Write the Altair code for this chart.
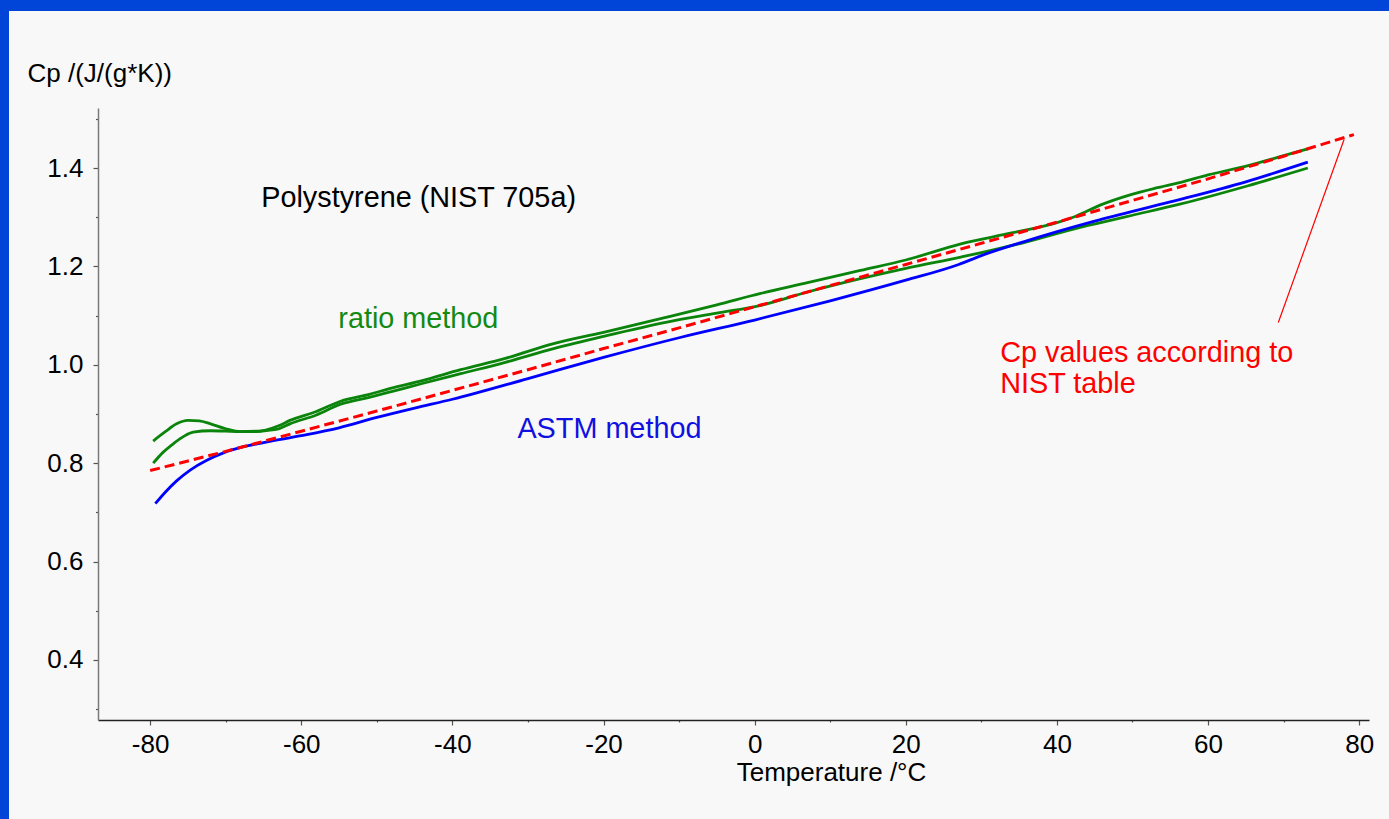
import altair as alt
import pandas as pd

# ---------------- data ----------------
nist_t = [-80.0, -70.0, -60.0, -50.0, -40.0, -30.0, -20.0, -10.0, 0.0, 10.0, 20.0, 30.0, 40.0, 50.0, 60.0, 70.0, 79.3]
nist_cp = [0.785, 0.824, 0.865, 0.906, 0.948, 0.990, 1.033, 1.075, 1.118, 1.161, 1.204, 1.247, 1.290, 1.334, 1.378, 1.424, 1.468]

astm_t = [-79.3, -78.0, -76.5, -74.7, -72.5, -70.3, -68.0, -65.0, -60.0, -55.0, -50.0, -45.0, -40.0, -30.0, -20.0, -10.0, 0.0, 10.0, 20.0, 27.0, 30.0, 36.0, 45.0, 55.0, 65.0, 73.2]
astm_cp = [0.718, 0.741, 0.764, 0.786, 0.806, 0.821, 0.832, 0.842, 0.856, 0.872, 0.893, 0.912, 0.930, 0.972, 1.015, 1.055, 1.091, 1.130, 1.172, 1.204, 1.222, 1.252, 1.292, 1.331, 1.372, 1.412]

ratio1_t = [-79.6, -78.0, -76.5, -75.0, -73.5, -72.0, -70.0, -68.0, -66.0, -63.0, -61.5, -58.0, -54.8, -51.0, -48.2, -44.0, -38.9, -33.0, -26.6, -20.0, -11.6, -5.0, 0.8, 7.0, 14.0, 20.0, 27.3, 34.0, 40.0, 42.5, 45.8, 49.8, 53.0, 56.4, 60.0, 65.3, 70.0, 73.2]
ratio1_cp = [0.845, 0.864, 0.880, 0.887, 0.886, 0.880, 0.870, 0.864, 0.864, 0.876, 0.887, 0.905, 0.926, 0.940, 0.952, 0.968, 0.990, 1.013, 1.043, 1.066, 1.097, 1.122, 1.145, 1.167, 1.192, 1.213, 1.246, 1.268, 1.289, 1.302, 1.325, 1.346, 1.359, 1.371, 1.386, 1.405, 1.425, 1.439]

ratio2_t = [-79.6, -78.3, -76.9, -75.5, -74.3, -72.0, -70.0, -68.0, -66.0, -63.0, -61.5, -58.0, -54.8, -51.0, -48.2, -44.0, -38.9, -33.0, -26.6, -20.0, -11.6, -5.0, 0.8, 7.0, 14.0, 20.0, 27.3, 30.0, 36.0, 43.2, 45.8, 50.0, 56.4, 65.3, 73.2]
ratio2_cp = [0.800, 0.822, 0.840, 0.855, 0.863, 0.866, 0.865, 0.864, 0.865, 0.870, 0.880, 0.898, 0.920, 0.934, 0.945, 0.962, 0.982, 1.005, 1.033, 1.058, 1.087, 1.105, 1.121, 1.148, 1.175, 1.196, 1.219, 1.228, 1.250, 1.280, 1.289, 1.304, 1.327, 1.364, 1.400]

leader_t = [78.0, 69.3]
leader_cp = [1.458, 1.086]

label_text = ["Polystyrene (NIST 705a)", "ratio method", "ASTM method", "Cp values according to", "NIST table"]
label_t = [-65.3, -55.1, -31.4, 32.5, 32.5]
label_cp = [1.340, 1.094, 0.869, 1.023, 0.960]
label_color = ["#000000", "#138a13", "#1010e0", "#ff0000", "#ff0000"]

x_ticks = list(range(-80, 81, 10))
y_ticks = [round(0.3 + 0.1 * i, 1) for i in range(13)]

# ---------------- tables ----------------
def series(name, ts, cps):
    return pd.DataFrame({"T": ts, "Cp": cps, "series": name, "order": range(len(ts))})

solid_df = pd.concat([
    series("ratio1", ratio1_t, ratio1_cp),
    series("ratio2", ratio2_t, ratio2_cp),
    series("ASTM", astm_t, astm_cp),
])
nist_df = series("NIST", nist_t, nist_cp)
leader_df = pd.DataFrame({"T": [leader_t[0]], "Cp": [leader_cp[0]], "T2": [leader_t[1]], "Cp2": [leader_cp[1]]})
labels_df = pd.DataFrame({"text": label_text, "T": label_t, "Cp": label_cp, "color": label_color})

FONT = "Liberation Sans"
W, H = 1271, 612
PAD_L, PAD_T, PAD_R, PAD_B = 98, 108, 20, 99

x_scale = alt.Scale(domain=[-86.9, 81.3], nice=False, zero=False)
y_scale = alt.Scale(domain=[0.278, 1.522], nice=False, zero=False)

x_axis = alt.Axis(
    values=x_ticks,
    labelExpr="datum.value % 20 == 0 ? '' + datum.value : ''",
    tickSize={"condition": {"test": "datum.value % 20 == 0", "value": 5}, "value": 2},
    labelFontSize=26, labelFont=FONT, labelColor="#000000", labelPadding=6,
    domainColor="#222222", domainWidth=1.5, tickColor="#555555", tickWidth=1.2,
    grid=False, labelFlush=False, labelOverlap=False,
    title="Temperature /°C", titleFont=FONT, titleFontSize=26, titleFontWeight="normal",
    titleColor="#000000", titleX=733, titleY=52, titleAlign="center", titleBaseline="middle",
)
y_axis = alt.Axis(
    values=y_ticks,
    labelExpr="round(datum.value * 10) % 2 == 0 ? format(datum.value, '.1f') : ''",
    tickSize={"condition": {"test": "round(datum.value * 10) % 2 == 0", "value": 5}, "value": 2.5},
    labelFontSize=26, labelFont=FONT, labelColor="#000000", labelPadding=10,
    domainColor="#7a7a7a", domainWidth=1.5, tickColor="#555555", tickWidth=1.2,
    grid=False, labelFlush=False, labelOverlap=False,
    title="Cp /(J/(g*K))", titleFont=FONT, titleFontSize=26, titleFontWeight="normal",
    titleColor="#000000", titleAngle=0, titleX=-71, titleY=-35, titleAlign="left", titleBaseline="middle",
)

solid = alt.Chart(solid_df).mark_line(strokeWidth=2.8, interpolate="monotone").encode(
    x=alt.X("T:Q", scale=x_scale, axis=x_axis),
    y=alt.Y("Cp:Q", scale=y_scale, axis=y_axis),
    color=alt.Color("series:N", scale=alt.Scale(domain=["ratio1", "ratio2", "ASTM"],
                                                range=["#0a840a", "#0a840a", "#0000ff"]), legend=None),
    detail="series:N",
    order="order:Q",
)

nist = alt.Chart(nist_df).mark_line(strokeWidth=3, color="#ff0000", strokeDash=[10, 5]).encode(
    x=alt.X("T:Q", scale=x_scale),
    y=alt.Y("Cp:Q", scale=y_scale),
    order="order:Q",
)

leader = alt.Chart(leader_df).mark_rule(color="#ff0000", strokeWidth=1.2).encode(
    x=alt.X("T:Q", scale=x_scale), y=alt.Y("Cp:Q", scale=y_scale),
    x2="T2:Q", y2="Cp2:Q",
)

labels = alt.Chart(labels_df).mark_text(align="left", baseline="middle", font=FONT, fontSize=28.8).encode(
    x=alt.X("T:Q", scale=x_scale), y=alt.Y("Cp:Q", scale=y_scale),
    text="text:N",
    color=alt.Color("color:N", scale=None),
)

frame_top = alt.Chart(alt.Data(values=[{}])).mark_rect(color="#0045d8").encode(
    x=alt.value(-PAD_L), x2=alt.value(W + PAD_R), y=alt.value(-PAD_T), y2=alt.value(-PAD_T + 11),
)
frame_left = alt.Chart(alt.Data(values=[{}])).mark_rect(color="#0045d8").encode(
    x=alt.value(-PAD_L), x2=alt.value(-PAD_L + 9), y=alt.value(-PAD_T), y2=alt.value(H + PAD_B),
)

chart = alt.layer(solid, nist, leader, labels, frame_top, frame_left).properties(
    width=W, height=H,
    autosize=alt.AutoSizeParams(type="none"),
    padding={"left": PAD_L, "top": PAD_T, "right": PAD_R, "bottom": PAD_B},
    background="#f8f8f8",
).configure_view(stroke=None)

chart.save("out.html", embed_options={"renderer": "svg", "actions": False})
